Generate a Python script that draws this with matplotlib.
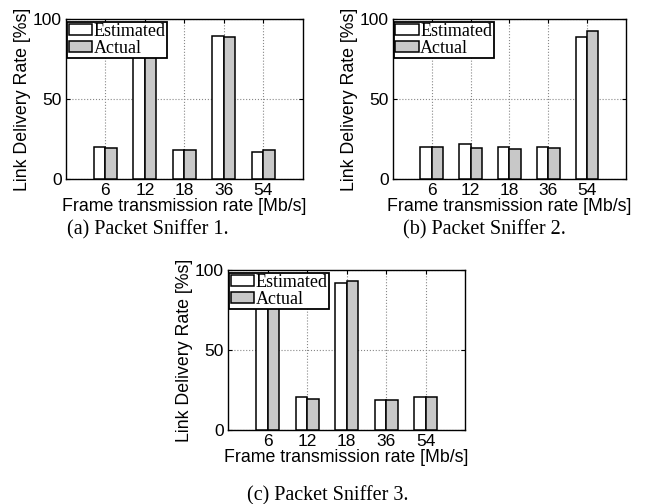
import numpy as np
from matplotlib import pyplot as plt
from matplotlib.patches import Patch

rates = ['6', '12', '18', '36', '54']

est_1 = [20.1, 85, 17.8, 89.6, 17.0]
act_1 = [19.3, 84, 18.3, 88.6, 18.0]

est_2 = [20.2, 22.0, 20.2, 20.2, 89.0]
act_2 = [20.2, 19.6, 19.0, 19.4, 92.5]

est_3 = [88, 20.8, 92, 18.8, 20.8]
act_3 = [87, 19.4, 93.0, 19.0, 20.4]

captions = ['(a) Packet Sniffer 1.', '(b) Packet Sniffer 2.', '(c) Packet Sniffer 3.']

sans = ['Liberation Sans', 'DejaVu Sans']
serif = ['Liberation Serif', 'DejaVu Serif']
gray = '#c8c8c8'


def draw_panel(fig, rect, est, act):
    ax = fig.add_axes(rect)
    x = np.arange(1, len(rates) + 1)
    width = 0.29
    ax.bar(x - width / 2, est, width, color='white', edgecolor='black', linewidth=1.1, zorder=3)
    ax.bar(x + width / 2, act, width, color=gray, edgecolor='black', linewidth=1.1, zorder=3)
    ax.set_xlim(0, 6)
    ax.set_ylim(0, 100)
    ax.set_xticks(x)
    ax.set_xticklabels(rates, family=sans, fontsize=12.5)
    ax.set_yticks([0, 50, 100])
    ax.set_yticklabels(['0', '50', '100'], family=sans, fontsize=12.5)
    ax.tick_params(direction='in', length=3, width=0.8, pad=3, top=True, right=True)
    ax.grid(True, linestyle=':', color='#888888', linewidth=0.8, zorder=0)
    for s in ax.spines.values():
        s.set_linewidth(1.0)
    ax.set_xlabel('Frame transmission rate [Mb/s]', family=sans, fontsize=12.75, labelpad=0)
    ax.set_ylabel('Link Delivery Rate [%s]', family=sans, fontsize=12.75, labelpad=1)
    handles = [Patch(facecolor='white', edgecolor='black', linewidth=1.1),
               Patch(facecolor=gray, edgecolor='black', linewidth=1.1)]
    leg = ax.legend(handles, ['Estimated', 'Actual'], loc='upper left',
                    bbox_to_anchor=(0.005, 0.985), prop={'family': serif, 'size': 13},
                    handlelength=1.3, handleheight=0.55, handletextpad=0.08,
                    labelspacing=0.0, borderpad=0.08, borderaxespad=0.0,
                    fancybox=False, framealpha=1, edgecolor='black')
    leg.get_frame().set_linewidth(1.3)
    leg.set_zorder(5)
    return ax


fig = plt.figure(figsize=(6.46, 5.04), dpi=100)

draw_panel(fig, [0.102, 0.645, 0.367, 0.317], est_1, act_1)
draw_panel(fig, [0.608, 0.645, 0.361, 0.317], est_2, act_2)
draw_panel(fig, [0.353, 0.147, 0.367, 0.317], est_3, act_3)

fig.text(148 / 646, 1 - 230 / 504, captions[0], family=serif, fontsize=14.5, ha='center', va='center')
fig.text(484 / 646, 1 - 230 / 504, captions[1], family=serif, fontsize=14.5, ha='center', va='center')
fig.text(328 / 646, 1 - 500 / 504, captions[2], family=serif, fontsize=14.5, ha='center', va='baseline')

plt.savefig('out.png', dpi=100)
